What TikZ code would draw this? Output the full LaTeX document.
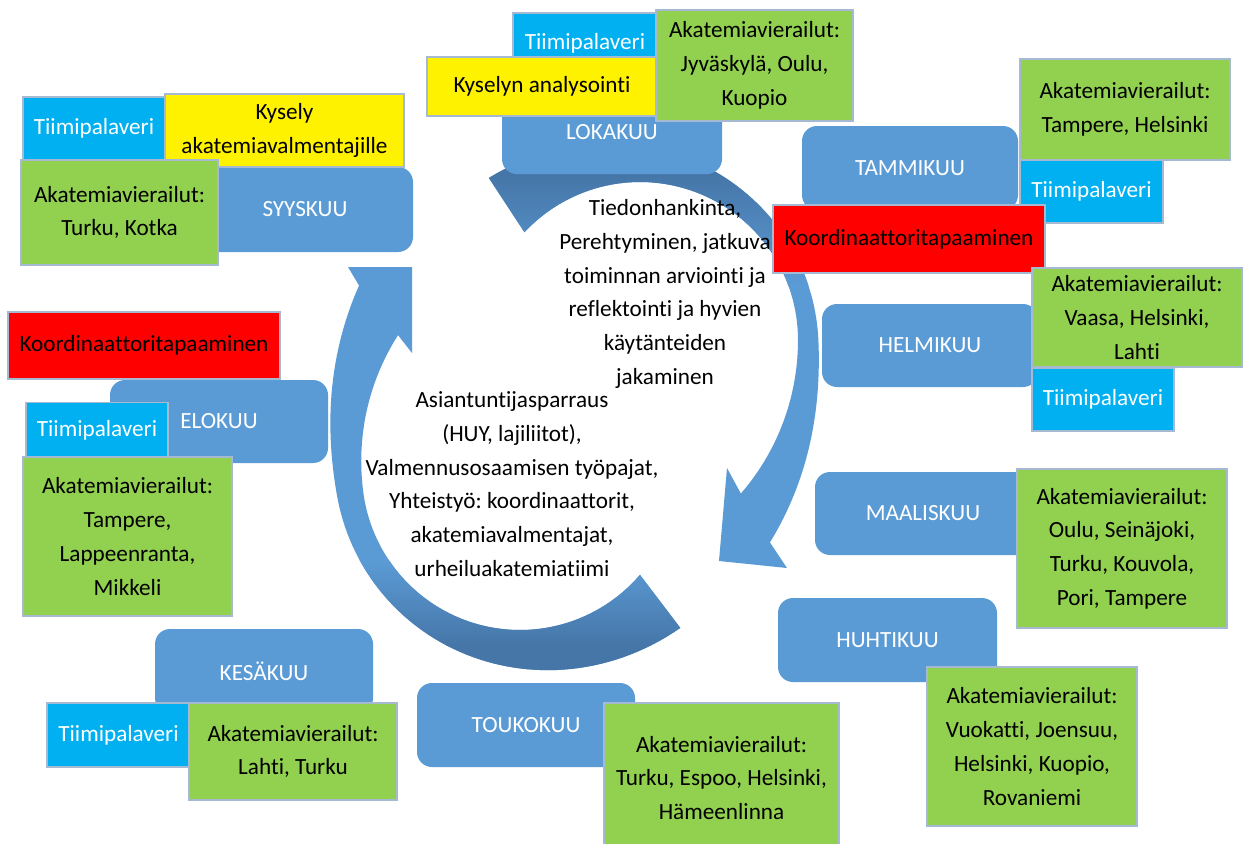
\documentclass[tikz,border=0pt]{standalone}
\usepackage{fontspec}
\setmainfont{Carlito}[Ligatures=NoCommon]
\frenchspacing

\definecolor{monthblue}{HTML}{5B9BD5}
\definecolor{arcdark}{RGB}{70,118,168}
\definecolor{teamcyan}{HTML}{00B0F0}
\definecolor{visitgreen}{HTML}{92D050}
\definecolor{boxedge}{RGB}{165,185,210}

\newcommand{\upperarcpath}{plot[domain=137:-56.7] ({640+rin(\x)*cos(\x)}, {340-rin(\x)*sin(\x)}) -- (727,468) -- (719,561) -- (787,568) -- plot[domain=-57.3:133] ({640+routup(\x)*cos(\x)}, {340-routup(\x)*sin(\x)}) -- cycle}
\newcommand{\lowerarcpath}{plot[domain=131.4:-56.3] ({520+rin(\x)*cos(\x+188)}, {472-rin(\x)*sin(\x+188)}) -- (412,353) -- (412,267) -- (348,267) -- plot[domain=-57.2:127.8] ({520+routlow(\x)*cos(\x+188)}, {472-routlow(\x)*sin(\x+188)}) -- cycle}

\begin{document}
\begin{tikzpicture}[
     x = 0.02cm, y = -0.02cm,
     samples = 90,
     font = \fontsize{13.2}{19.2}\selectfont,
     declare function = {
       rin(\t) = 158 + (\t<0)*0.008*\t*\t;
       routup(\t) = 177 + 0.0035*(\t-20)*(\t-20) + (\t<0)*0.013*\t*\t;
       routlow(\t) = 183 + 0.0035*(\t-20)*(\t-20) + (\t<0)*0.013*\t*\t;
     },
     boxsize/.style 2 args = {minimum width=#1*0.02cm, minimum height=#2*0.02cm},
     month/.style = {fill=monthblue, rounded corners=0.3cm, text=white, inner sep=0pt},
     team/.style = {fill=teamcyan, draw=boxedge, line width=0.6pt, text=white, inner sep=0pt},
     survey/.style = {fill=yellow, draw=boxedge, line width=0.6pt, align=center, inner sep=0pt},
     meeting/.style = {fill=red, draw=boxedge, line width=0.6pt, inner sep=0pt},
     visit/.style = {fill=visitgreen, draw=boxedge, line width=0.6pt, align=center, inner sep=0pt}
    ]
    \fill[white] (0,0) rectangle (1248,843);
    \useasboundingbox (0,0) rectangle (1248,843);

    % the two circular arrows
    \fill[monthblue] \upperarcpath;
    \begin{scope}
      \clip \upperarcpath;
      \shade[top color=arcdark, bottom color=monthblue] (470,175) rectangle (830,285);
      \fill[arcdark] (470,120) rectangle (830,175);
    \end{scope}
    \fill[monthblue] \lowerarcpath;
    \begin{scope}
      \clip \lowerarcpath;
      \shade[top color=monthblue, bottom color=arcdark] (320,560) rectangle (700,645);
      \fill[arcdark] (320,645) rectangle (700,700);
    \end{scope}

    \node[align=center] (plan) at (665,294) {Tiedonhankinta,\\Perehtyminen, jatkuva\\toiminnan arviointi ja\\reflektointi ja hyvien\\käytänteiden\\jakaminen};
    \node[align=center] (work) at (512,484) {Asiantuntijasparraus\\(HUY, lajiliitot),\\Valmennusosaamisen työpajat,\\Yhteistyö: koordinaattorit,\\akatemiavalmentajat,\\urheiluakatemiatiimi};

    % syyskuu
    \node[month, boxsize={216}{85}] (syyskuu) at (305,209.5) {SYYSKUU};
    \node[team, boxsize={142}{63}] (syysteam) at (94,128.5) {Tiimipalaveri};
    \node[survey, boxsize={239}{73}] (syyskysely) at (284.5,130.5) {Kysely\\akatemiavalmentajille};
    \node[visit, boxsize={197}{105}] (syysvisit) at (119.5,212.5) {Akatemiavierailut:\\Turku, Kotka};

    % lokakuu
    \node[month, boxsize={220}{84}] (lokakuu) at (612,132) {LOKAKUU};
    \node[team, boxsize={144}{60}] (lokateam) at (585,43) {Tiimipalaveri};
    \node[survey, boxsize={230}{59}] (lokakysely) at (542,86.5) {Kyselyn analysointi};
    \node[visit, boxsize={197}{111}] (lokavisit) at (754.5,65.5) {Akatemiavierailut:\\Jyväskylä, Oulu,\\Kuopio};

    % tammikuu
    \node[month, boxsize={216}{84}] (tammikuu) at (910,168) {TAMMIKUU};
    \node[visit, boxsize={210}{101}] (tammivisit) at (1125,109.5) {Akatemiavierailut:\\Tampere, Helsinki};
    \node[team, boxsize={143}{63}] (tammiteam) at (1091.5,191.5) {Tiimipalaveri};
    \node[meeting, boxsize={272}{68}] (tammimeet) at (909,239) {Koordinaattoritapaaminen};

    % helmikuu
    \node[month, boxsize={216}{83}] (helmikuu) at (930,345.5) {HELMIKUU};
    \node[visit, boxsize={210}{99}] (helmivisit) at (1137,317.5) {Akatemiavierailut:\\Vaasa, Helsinki,\\Lahti};
    \node[team, boxsize={142}{63}] (helmiteam) at (1103,399.5) {Tiimipalaveri};

    % maaliskuu
    \node[month, boxsize={216}{83}] (maaliskuu) at (923,513.5) {MAALISKUU};
    \node[visit, boxsize={210}{159}] (maalisvisit) at (1122,548.5) {Akatemiavierailut:\\Oulu, Seinäjoki,\\Turku, Kouvola,\\Pori, Tampere};

    % huhtikuu
    \node[month, boxsize={219}{84}] (huhtikuu) at (887.5,640) {HUHTIKUU};
    \node[visit, boxsize={210}{159}] (huhtivisit) at (1032,746.5) {Akatemiavierailut:\\Vuokatti, Joensuu,\\Helsinki, Kuopio,\\Rovaniemi};

    % toukokuu
    \node[month, boxsize={218}{84}] (toukokuu) at (526,725) {TOUKOKUU};
    \node[visit, boxsize={235}{150}] (toukovisit) at (721.5,778) {Akatemiavierailut:\\Turku, Espoo, Helsinki,\\Hämeenlinna};

    % kesäkuu
    \node[month, boxsize={218}{84}] (kesakuu) at (264,671) {KESÄKUU};
    \node[team, boxsize={143}{64}] (kesateam) at (118.5,735) {Tiimipalaveri};
    \node[visit, boxsize={208}{97}] (kesavisit) at (293,751.5) {Akatemiavierailut:\\Lahti, Turku};

    % elokuu
    \node[meeting, boxsize={272}{67}] (elomeet) at (144,345.5) {Koordinaattoritapaaminen};
    \node[month, boxsize={218}{83}] (elokuu) at (219,421.5) {ELOKUU};
    \node[team, boxsize={142}{55}] (eloteam) at (97,430) {Tiimipalaveri};
    \node[visit, boxsize={209}{159}] (elovisit) at (127.5,536.5) {Akatemiavierailut:\\Tampere,\\Lappeenranta,\\Mikkeli};
\end{tikzpicture}
\end{document}
